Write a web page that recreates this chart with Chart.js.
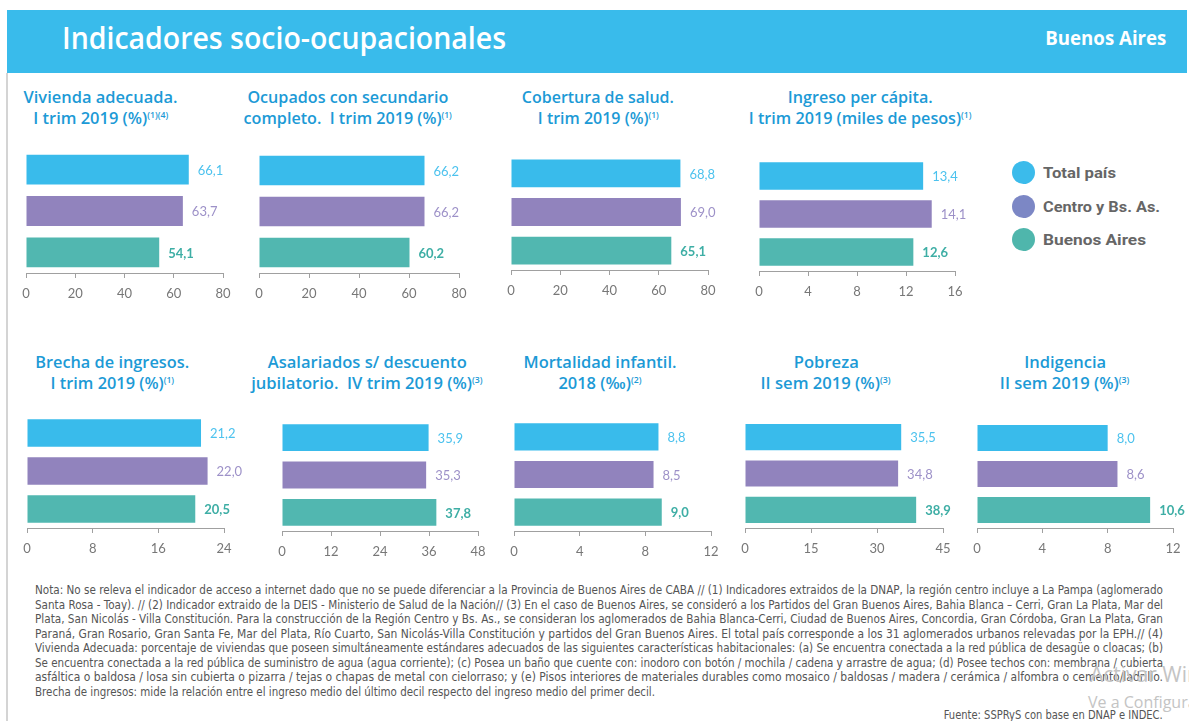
<!DOCTYPE html>
<html>
<head>
<meta charset="utf-8">
<script src="https://cdn.jsdelivr.net/npm/chart.js@4.4.1/dist/chart.umd.min.js"></script>
<style>
  body { margin: 0; width: 1189px; height: 721px; overflow: hidden; background: #fff; position: relative; font-family: 'Open Sans', sans-serif; }
  .abs { position: absolute; }
  .fit { display: inline-block; white-space: nowrap; }
  #band { left: 7px; top: 10px; width: 1180px; height: 63px; background: #39bbeb; }
  #leftline { left: 6px; top: 73px; width: 2px; height: 660px; background: #d4d4d4; }
  .htitle { color: #fff; }
  .ctitle { width: 400px; text-align: center; color: #1c9ad6; font-weight: 600; font-size: 17px; line-height: 21px; }
  .ctitle sup { font-size: 9px; vertical-align: 6px; line-height: 0; }
  .dot { width: 23px; height: 23px; border-radius: 50%; position: absolute; }
  .legtxt { position: absolute; left: 1043px; font-family: Roboto, sans-serif; font-weight: bold; font-size: 15px; color: #666; line-height: 18px; }
  .note { left: 35px; font-family: 'Liberation Sans Narrow', 'DejaVu Sans Condensed', sans-serif; font-size: 11.5px; color: #555; line-height: 14.5px; height: 14.5px; transform-origin: left center; }
  canvas { position: absolute; }
  .wm { color: #c4c4c4; font-family: 'Open Sans', sans-serif; white-space: nowrap; }
</style>
</head>
<body>
<div id="band" class="abs"></div>
<div id="leftline" class="abs"></div>
<div class="abs" style="left:62px; top:19px; line-height:38px;"><span id="mainTitle" class="fit htitle" style="font-size:30px; font-weight:600; transform-origin:left center;">Indicadores socio-ocupacionales</span></div>
<div class="abs" style="right:23px; top:26px; line-height:24px;"><span id="subTitle" class="fit htitle" style="font-size:19px; font-weight:700; transform-origin:right center;">Buenos Aires</span></div>

<div id="titles"></div>

<div class="dot" style="left:1012px; top:161px; background:#3bbbeb;"></div>
<div class="dot" style="left:1012px; top:195px; background:#7c87c5;"></div>
<div class="dot" style="left:1012px; top:228px; background:#4fb6ac;"></div>
<div class="legtxt" style="top:164px;"><span class="fit" id="lg0" style="transform-origin:left center;">Total país</span></div>
<div class="legtxt" style="top:198px;"><span class="fit" id="lg1" style="transform-origin:left center;">Centro y Bs. As.</span></div>
<div class="legtxt" style="top:231px;"><span class="fit" id="lg2" style="transform-origin:left center;">Buenos Aires</span></div>

<div id="notes"></div>
<div class="abs" style="right:26px; top:706px; line-height:14px;"><span class="fit" id="fuente" style="font-family:'Liberation Sans Narrow','DejaVu Sans Condensed',sans-serif; font-size:11.5px; color:#555; transform-origin:right center;">Fuente: SSPRyS con base en DNAP e INDEC.</span></div>
<div class="abs wm" style="left:1090px; top:660px; font-size:21px;">Activar Windows</div>
<div class="abs wm" style="left:1088px; top:691px; font-size:16px;">Ve a Configuración</div>

<script>
// series order: Total país, Centro y Bs. As., Buenos Aires
const groups = ['Total país', 'Centro y Bs. As.', 'Buenos Aires'];
const vivienda = [66.1, 63.7, 54.1];
const secundario = [66.2, 66.2, 60.2];
const salud = [68.8, 69.0, 65.1];
const ingreso = [13.4, 14.1, 12.6];
const brecha = [21.2, 22.0, 20.5];
const asalariados = [35.9, 35.3, 37.8];
const mortalidad = [8.8, 8.5, 9.0];
const pobreza = [35.5, 34.8, 38.9];
const indigencia = [8.0, 8.6, 10.6];

// axis max and tick step for each chart
const axisMax = [80, 80, 80, 16, 24, 48, 12, 45, 12];
const axisStep = [20, 20, 20, 4, 8, 12, 4, 15, 4];

const barColors = ['#39bbeb', '#9183bd', '#51b7b0'];
const labelColors = ['#4cc2ee', '#9d91c8', '#3eaea5'];

// title lines, [line1, line2, sup]
const titles = [
  ['Vivienda adecuada.', 'I trim 2019 (%)', '(1)(4)'],
  ['Ocupados con secundario', 'completo.&nbsp; I trim 2019 (%)', '(1)'],
  ['Cobertura de salud.', 'I trim 2019 (%)', '(1)'],
  ['Ingreso per cápita.', 'I trim 2019 (miles de pesos)', '(1)'],
  ['Brecha de ingresos.', 'I trim 2019 (%)', '(1)'],
  ['Asalariados s/ descuento', 'jubilatorio.&nbsp; IV trim 2019 (%)', '(3)'],
  ['Mortalidad infantil.', '2018 (‰)', '(2)'],
  ['Pobreza', 'II sem 2019 (%)', '(3)'],
  ['Indigencia', 'II sem 2019 (%)', '(3)']
];

const notes = [
  'Nota: No se releva el indicador de acceso a internet dado que no se puede diferenciar a la Provincia de Buenos Aires de CABA // (1) Indicadores extraidos de la DNAP, la región centro incluye a La Pampa (aglomerado',
  'Santa Rosa - Toay). // (2) Indicador extraido de la DEIS - Ministerio de Salud de la Nación// (3)  En el caso de Buenos Aires, se consideró a los Partidos del Gran Buenos Aires, Bahia Blanca – Cerri, Gran La Plata, Mar del',
  'Plata, San Nicolás - Villa Constitución. Para la construcción de la Región Centro y Bs. As., se consideran los aglomerados de Bahia Blanca-Cerri, Ciudad de Buenos Aires, Concordia, Gran Córdoba, Gran La Plata, Gran',
  'Paraná, Gran Rosario, Gran Santa Fe, Mar del Plata, Río Cuarto, San Nicolás-Villa Constitución y partidos del Gran Buenos Aires.  El total país corresponde a los 31 aglomerados urbanos relevadas por la EPH.// (4)',
  'Vivienda Adecuada: porcentaje de viviendas que poseen simultáneamente estándares adecuados de las siguientes características habitacionales: (a) Se encuentra conectada a la red pública de desagüe o cloacas; (b)',
  'Se encuentra conectada a la red pública de suministro de agua (agua corriente); (c) Posea un baño que cuente con: inodoro con botón / mochila / cadena y arrastre de agua; (d) Posee techos con: membrana / cubierta',
  'asfáltica o baldosa / losa sin cubierta o pizarra / tejas o chapas de metal con cielorraso; y (e) Pisos interiores de materiales durables como mosaico / baldosas / madera / cerámica / alfombra o cemento/ladrillo.',
  'Brecha de ingresos: mide la relación entre el ingreso medio del último decil respecto del ingreso medio del primer decil.'
];

// where each little chart sits on the page
const boxes = [
  { x0: 26, x1: 223, top: 149, bottom: 273, tx: 101, ty: 86, w1: 154 },
  { x0: 259, x1: 459, top: 150, bottom: 273, tx: 348, ty: 86, w1: 201 },
  { x0: 511, x1: 708, top: 154, bottom: 270, tx: 598, ty: 86, w1: 152 },
  { x0: 759, x1: 955, top: 157, bottom: 271, tx: 860, ty: 86, w1: 145 },
  { x0: 27, x1: 224, top: 414, bottom: 528, tx: 112, ty: 351, w1: 154 },
  { x0: 282, x1: 478, top: 419, bottom: 531, tx: 367, ty: 351, w1: 199 },
  { x0: 514, x1: 711, top: 418, bottom: 531, tx: 600, ty: 351, w1: 153 },
  { x0: 745, x1: 943, top: 419, bottom: 528, tx: 826, ty: 351, w1: 65 },
  { x0: 977, x1: 1173, top: 420, bottom: 528, tx: 1065, ty: 351, w1: 82 }
];

const allData = [vivienda, secundario, salud, ingreso, brecha, asalariados, mortalidad, pobreza, indigencia];

function fitWidth(el, w) {
  const cur = el.getBoundingClientRect().width;
  const r = w / cur;
  el.style.transform = 'scaleX(' + r + ')';
  return r;
}

// titles
const tDiv = document.getElementById('titles');
titles.forEach((t, i) => {
  const b = boxes[i];
  const d = document.createElement('div');
  d.className = 'abs ctitle';
  d.style.left = (b.tx - 200) + 'px';
  d.style.top = b.ty + 'px';
  d.innerHTML = '<span class="fit" style="transform-origin:center">' + t[0] + '</span><br>' +
    '<span class="fit" style="transform-origin:center">' + t[1] + '<sup>' + t[2] + '</sup></span>';
  tDiv.appendChild(d);
  const spans = d.querySelectorAll('span');
  const r = fitWidth(spans[0], b.w1);
  spans[1].style.transform = 'scaleX(' + r + ')';
});

// footnote lines
const nDiv = document.getElementById('notes');
notes.forEach((txt, i) => {
  const d = document.createElement('div');
  d.className = 'abs note';
  d.style.top = (583 + i * 14.5) + 'px';
  d.innerHTML = '<span class="fit" style="transform-origin:left center"></span>';
  d.firstChild.textContent = txt;
  nDiv.appendChild(d);
  fitWidth(d.firstChild, i < notes.length - 1 ? 1128 : 620);
});

fitWidth(document.getElementById('mainTitle'), 444);
fitWidth(document.getElementById('subTitle'), 121);
fitWidth(document.getElementById('fuente'), 219);
fitWidth(document.getElementById('lg0'), 73);
fitWidth(document.getElementById('lg1'), 117);
fitWidth(document.getElementById('lg2'), 103);

Chart.defaults.font.family = 'Lato';
Chart.defaults.animation = false;

const valueLabels = {
  id: 'valueLabels',
  afterDatasetsDraw(chart) {
    const ctx = chart.ctx;
    const meta = chart.getDatasetMeta(0);
    ctx.save();
    ctx.textBaseline = 'middle';
    ctx.textAlign = 'left';
    meta.data.forEach((bar, i) => {
      const v = chart.data.datasets[0].data[i];
      ctx.fillStyle = labelColors[i];
      ctx.font = (i === 2 ? 'bold ' : '') + '13px Lato';
      ctx.fillText(v.toFixed(1).replace('.', ','), bar.x + 9, bar.y + 1);
    });
    ctx.restore();
  }
};

const padL = 20, padR = 50, axisH = 30;

boxes.forEach((b, i) => {
  const cv = document.createElement('canvas');
  const w = b.x1 - b.x0 + padL + padR;
  const h = b.bottom - b.top + axisH;
  cv.width = w;
  cv.height = h;
  cv.style.width = w + 'px';
  cv.style.height = h + 'px';
  cv.style.left = (b.x0 - padL) + 'px';
  cv.style.top = b.top + 'px';
  document.body.appendChild(cv);

  new Chart(cv.getContext('2d'), {
    type: 'bar',
    data: {
      labels: groups,
      datasets: [{
        data: allData[i],
        backgroundColor: barColors,
        barPercentage: 0.72,
        categoryPercentage: 1
      }]
    },
    options: {
      indexAxis: 'y',
      responsive: false,
      devicePixelRatio: 1,
      layout: { padding: { left: padL, right: padR, top: 0, bottom: 0 } },
      plugins: { legend: { display: false }, tooltip: { enabled: false } },
      scales: {
        y: { display: false },
        x: {
          min: 0,
          max: axisMax[i],
          afterFit: (s) => { s.height = axisH; },
          ticks: { stepSize: axisStep[i], color: '#777', padding: 8, font: { size: 13 } },
          grid: { drawOnChartArea: false, tickLength: 5, color: '#a0a0a0' },
          border: { display: true, color: '#a0a0a0' }
        }
      }
    },
    plugins: [valueLabels]
  });
});
</script>
</body>
</html>
